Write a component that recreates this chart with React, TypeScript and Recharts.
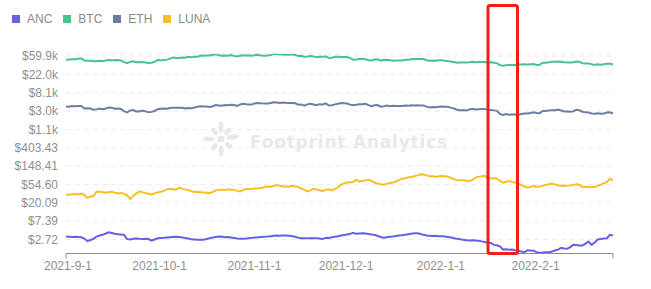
import { CartesianGrid, Line, LineChart, XAxis, YAxis } from 'recharts';

// daily prices, 2021-9-1 .. 2022-2-27
const anc = [
  3.2, 3.17, 3.12, 3.15, 3.12, 3.08, 2.87, 2.48, 2.65, 2.82, 3.2, 3.38, 3.51, 3.77, 4.05, 3.88, 3.71, 3.63, 3.57, 3.51,
  2.79, 2.72, 2.82, 2.87, 2.82, 2.79, 2.82, 2.79, 2.57, 2.72,
  2.92, 2.95, 2.98, 3.03, 3.08, 3.12, 3.15, 3.12, 3.03, 2.95, 2.87, 2.76, 2.72, 2.69, 2.67, 2.69, 2.79, 2.92, 3.03, 3.12,
  3.2, 3.15, 3.08, 3.12, 3.03, 2.95, 2.87, 2.82, 2.82, 2.87, 2.95,
  2.98, 3.03, 3.08, 3.12, 3.17, 3.2, 3.25, 3.33, 3.38, 3.35, 3.38, 3.38, 3.33, 3.25, 3.15, 2.98, 2.92, 2.92, 2.9, 2.9,
  2.92, 2.9, 2.87, 2.79, 2.98, 2.95, 3.07, 3.15, 3.24, 3.38,
  3.48, 3.57, 3.71, 3.92, 3.71, 3.77, 3.83, 3.77, 3.67, 3.57, 3.51, 3.29, 3.12, 2.98, 3.08, 3.15, 3.2, 3.29, 3.38, 3.44,
  3.51, 3.63, 3.73, 3.83, 3.81, 3.67, 3.51, 3.38, 3.35, 3.29, 3.33,
  3.25, 3.25, 3.2, 3.12, 3.03, 2.92, 2.82, 2.76, 2.67, 2.62, 2.57, 2.6, 2.57, 2.53, 2.46, 2.37, 2.27, 2.25, 2.03, 1.99,
  1.88, 1.57, 1.6, 1.55, 1.57, 1.51, 1.49, 1.41, 1.36, 1.51, 1.49,
  1.47, 1.37, 1.31, 1.34, 1.36, 1.36, 1.41, 1.49, 1.57, 1.73, 1.66, 1.64, 1.8, 2.03, 2.01, 1.96, 1.96, 2.18, 2.44, 2.03,
  2.31, 2.72, 2.79, 2.87, 2.92, 3.51, 3.38,
];

const btc = [
  48800, 49300, 50000, 49900, 51800, 52700, 46800, 46100, 46400, 44900, 45200, 46100, 44900, 47100, 48200, 47800, 47300,
  48300, 47300, 43000, 40700, 43600, 44900, 42800, 42700, 43200, 42200, 41000, 41500, 43800,
  48100, 47700, 48200, 49200, 51500, 55400, 53800, 53900, 54900, 54700, 57500, 56000, 57400, 57300, 61700, 60900, 61500,
  62000, 64300, 66000, 62200, 60700, 61400, 60900, 63200, 60300, 58500, 60600, 62300, 61800, 61300,
  61000, 63300, 62900, 61400, 61000, 61500, 63300, 67600, 66900, 64900, 64900, 64200, 64400, 65500, 63600, 60200, 60400,
  56900, 58100, 59700, 58700, 56300, 57600, 57200, 58900, 53600, 54800, 57300, 57800, 57000,
  56900, 56500, 53600, 49200, 49400, 50600, 50600, 50500, 47700, 47200, 49400, 50100, 46700, 48400, 48900, 47600, 46200,
  46800, 46700, 46900, 49000, 48600, 50800, 50400, 50800, 50600, 50600, 47600, 46500, 47100, 46300,
  47700, 47300, 46500, 45900, 43600, 43200, 41600, 41800, 42000, 41800, 42700, 43900, 42600, 43100, 43200, 43100, 42300,
  42400, 41700, 40700, 36500, 35100, 36300, 36700, 36900, 36800, 37200, 37700, 38200, 37900, 38500,
  38700, 36900, 37300, 41600, 41400, 42400, 43800, 44100, 44300, 43600, 42400, 42200, 42100, 42600, 44600, 43900, 40500,
  40000, 40100, 38400, 37000, 38300, 37300, 38300, 39200, 39100, 37700,
];

const eth = [
  3830, 3787, 3940, 3887, 3952, 3928, 3427, 3497, 3427, 3211, 3270, 3410, 3285, 3429, 3615, 3571, 3398, 3432, 3329, 2958,
  2764, 3077, 3155, 2931, 2925, 3062, 2934, 2807, 2853, 3001,
  3307, 3391, 3418, 3380, 3518, 3581, 3587, 3563, 3575, 3425, 3545, 3493, 3606, 3787, 3865, 3830, 3847, 3748, 3877, 4155,
  4057, 3971, 4168, 4083, 4217, 4131, 3930, 4287, 4414, 4325, 4288,
  4324, 4585, 4607, 4537, 4481, 4518, 4611, 4808, 4732, 4636, 4730, 4667, 4649, 4626, 4557, 4217, 4288, 3996, 4298, 4417,
  4269, 4088, 4342, 4271, 4524, 4044, 4097, 4294, 4445, 4632,
  4586, 4511, 4241, 4101, 4198, 4347, 4308, 4438, 4111, 3909, 4084, 4136, 3784, 3862, 4018, 3880, 3960, 3923, 3937, 3930,
  4018, 3983, 4106, 4047, 4093, 4067, 4037, 3800, 3628, 3713, 3683,
  3769, 3829, 3761, 3795, 3550, 3418, 3193, 3092, 3157, 3083, 3239, 3371, 3246, 3310, 3331, 3356, 3213, 3165, 3097, 3015,
  2557, 2406, 2535, 2440, 2460, 2468, 2420, 2547, 2598, 2604, 2688,
  2792, 2681, 2666, 2988, 3013, 3058, 3136, 3122, 3240, 3081, 2925, 2917, 2868, 2932, 3185, 3122, 2885, 2781, 2762, 2627,
  2577, 2637, 2590, 2600, 2764, 2780, 2620,
];

const luna = [
  31.8, 31.3, 32.2, 32.7, 31.8, 33.1, 30.9, 26.3, 28.5, 29.0, 37.4, 36.9, 36.0, 35.0, 36.2, 36.6, 35.0, 33.6, 34.5, 32.7,
  30.1, 24.6, 29.3, 33.1, 37.4, 36.0, 34.5, 33.1, 31.8, 33.6,
  35.5, 36.9, 38.5, 41.8, 43.4, 42.2, 41.1, 45.8, 43.6, 41.8, 40.0, 38.5, 36.2, 36.6, 36.0, 35.5, 35.0, 34.1, 36.6, 39.6,
  41.1, 41.1, 40.7, 41.8, 41.1, 41.1, 38.5, 37.4, 40.7, 43.4, 42.9,
  43.4, 44.1, 44.6, 45.3, 47.9, 49.2, 48.4, 50.6, 52.8, 51.1, 49.2, 49.2, 48.4, 50.6, 49.2, 47.9, 44.1, 40.7, 37.4, 39.6,
  43.4, 41.8, 40.0, 38.1, 40.7, 41.8, 39.6, 42.9, 46.6, 54.0,
  57.9, 60.6, 61.2, 62.2, 70.9, 64.0, 66.5, 68.3, 70.9, 66.5, 60.2, 57.9, 55.5, 54.0, 56.4, 59.0, 61.2, 64.0, 70.2, 75.0,
  77.0, 80.5, 81.8, 86.0, 89.8, 94.8, 93.8, 89.8, 85.0, 85.0, 83.6,
  86.0, 86.4, 85.0, 83.6, 78.3, 73.0, 68.3, 68.3, 69.1, 67.2, 65.8, 70.2, 79.2, 82.7, 85.0, 88.3, 75.0, 76.2, 76.2, 75.0,
  66.5, 60.2, 63.6, 65.8, 62.9, 60.2, 57.1, 53.4, 49.2, 45.8, 47.9,
  50.0, 48.4, 49.2, 51.1, 53.4, 55.5, 57.1, 54.9, 52.6, 51.1, 51.1, 51.1, 52.0, 53.4, 55.5, 54.0, 47.4, 48.4, 47.9, 47.4,
  47.4, 50.6, 54.0, 57.9, 62.9, 75.0, 68.3,
];

const xTickLabels = ['2021-9-1', '2021-10-1', '2021-11-1', '2021-12-1', '2022-1-1', '2022-2-1'];
const yTicks = [2.718, 7.389, 20.09, 54.6, 148.41, 403.43, 1096.6, 2981, 8103, 22026, 59874];

const series = [
  { key: 'ANC', values: anc, color: '#6461e6' },
  { key: 'BTC', values: btc, color: '#47c38f' },
  { key: 'ETH', values: eth, color: '#6d7ea3' },
  { key: 'LUNA', values: luna, color: '#f8bf24' },
];

function dayLabel(i: number) {
  const d = new Date(Date.UTC(2021, 8, 1 + i));
  return `${d.getUTCFullYear()}-${d.getUTCMonth() + 1}-${d.getUTCDate()}`;
}

const data = btc.map((_, i) => {
  const row: Record<string, number | string> = { day: i, date: dayLabel(i) };
  series.forEach((s) => (row[s.key] = s.values[i]));
  return row;
});
const lastDay = data.length - 1;
const xTicks = [...data.filter((d) => xTickLabels.includes(d.date as string)).map((d) => d.day as number), lastDay];

const fmtPrice = (v: number) => (v >= 1000 ? `$${(v / 1000).toFixed(1)}k` : `$${v.toFixed(2)}`);

const axisGray = '#8c8c8c';
const textGray = '#8f8f8f';
const font = '"Liberation Sans", Arial, sans-serif';

function DateTick({ x, y, payload }: any) {
  const v = payload.value as number;
  const edge = v === 0 || v === lastDay;
  return (
    <g>
      {edge && <line x1={x} x2={x} y1={y - 8} y2={y - 3} stroke={axisGray} />}
      {v !== lastDay && (
        <text x={x + 2} y={y} dy="0.71em" textAnchor="middle" fill={textGray} fontSize={12} fontFamily={font}>
          {dayLabel(v)}
        </text>
      )}
    </g>
  );
}

function Watermark() {
  const petals = [0, 40, 80, 130, 180, 220, 270, 320];
  return (
    <g fill="#e9e9e9">
      <circle cx={221} cy={139} r={3.5} />
      {petals.map((a, i) => (
        <ellipse
          key={a}
          cx={221}
          cy={139 - (i % 2 ? 10 : 12)}
          rx={2.6}
          ry={i % 2 ? 4 : 6}
          transform={`rotate(${a} 221 139)`}
        />
      ))}
      <text x={250} y={148} fontSize={17} fontWeight="bold" fontFamily='"DejaVu Sans", sans-serif' letterSpacing={0.8}>
        Footprint Analytics
      </text>
    </g>
  );
}

export default function App() {
  return (
    <div style={{ position: 'absolute', left: 0, top: 0, width: 651, height: 289, background: '#fff', fontFamily: font }}>
      <LineChart width={651} height={289} data={data} margin={{ top: 53.8, right: 38, bottom: 5.5, left: 0 }}>
        <CartesianGrid vertical={false} stroke="#ececec" strokeDasharray="5 4" />
        <Watermark />
        <XAxis
          dataKey="day"
          type="number"
          domain={[0, lastDay]}
          ticks={xTicks}
          tick={<DateTick />}
          tickLine={false}
          height={30}
          axisLine={{ stroke: axisGray }}
          interval={0}
        />
        <YAxis
          type="number"
          scale="log"
          domain={[1.27, 67600]}
          allowDataOverflow
          ticks={yTicks}
          tickFormatter={fmtPrice}
          width={66}
          axisLine={false}
          tickLine={false}
          interval={0}
          tick={{ fill: textGray, fontSize: 12, fontFamily: font }}
        />
        {series.map((s) => (
          <Line
            key={s.key}
            dataKey={s.key}
            type="linear"
            stroke={s.color}
            strokeWidth={2}
            dot={false}
            isAnimationActive={false}
          />
        ))}
      </LineChart>
      <div style={{ position: 'absolute', left: 12, top: 11, display: 'flex', alignItems: 'center', fontSize: 12, color: '#8a8a8a' }}>
        {series.map((s) => (
          <div key={s.key} style={{ display: 'flex', alignItems: 'center', marginRight: 11, height: 16 }}>
            <span style={{ width: 8, height: 8, background: s.color, marginRight: 7, display: 'inline-block' }} />
            <span>{s.key}</span>
          </div>
        ))}
      </div>
      <svg width={651} height={289} style={{ position: 'absolute', left: 0, top: 0, pointerEvents: 'none' }}>
        <rect x={488} y={5.5} width={29.5} height={248} rx={2} fill="none" stroke="#f21d1d" strokeWidth={3} />
      </svg>
    </div>
  );
}
